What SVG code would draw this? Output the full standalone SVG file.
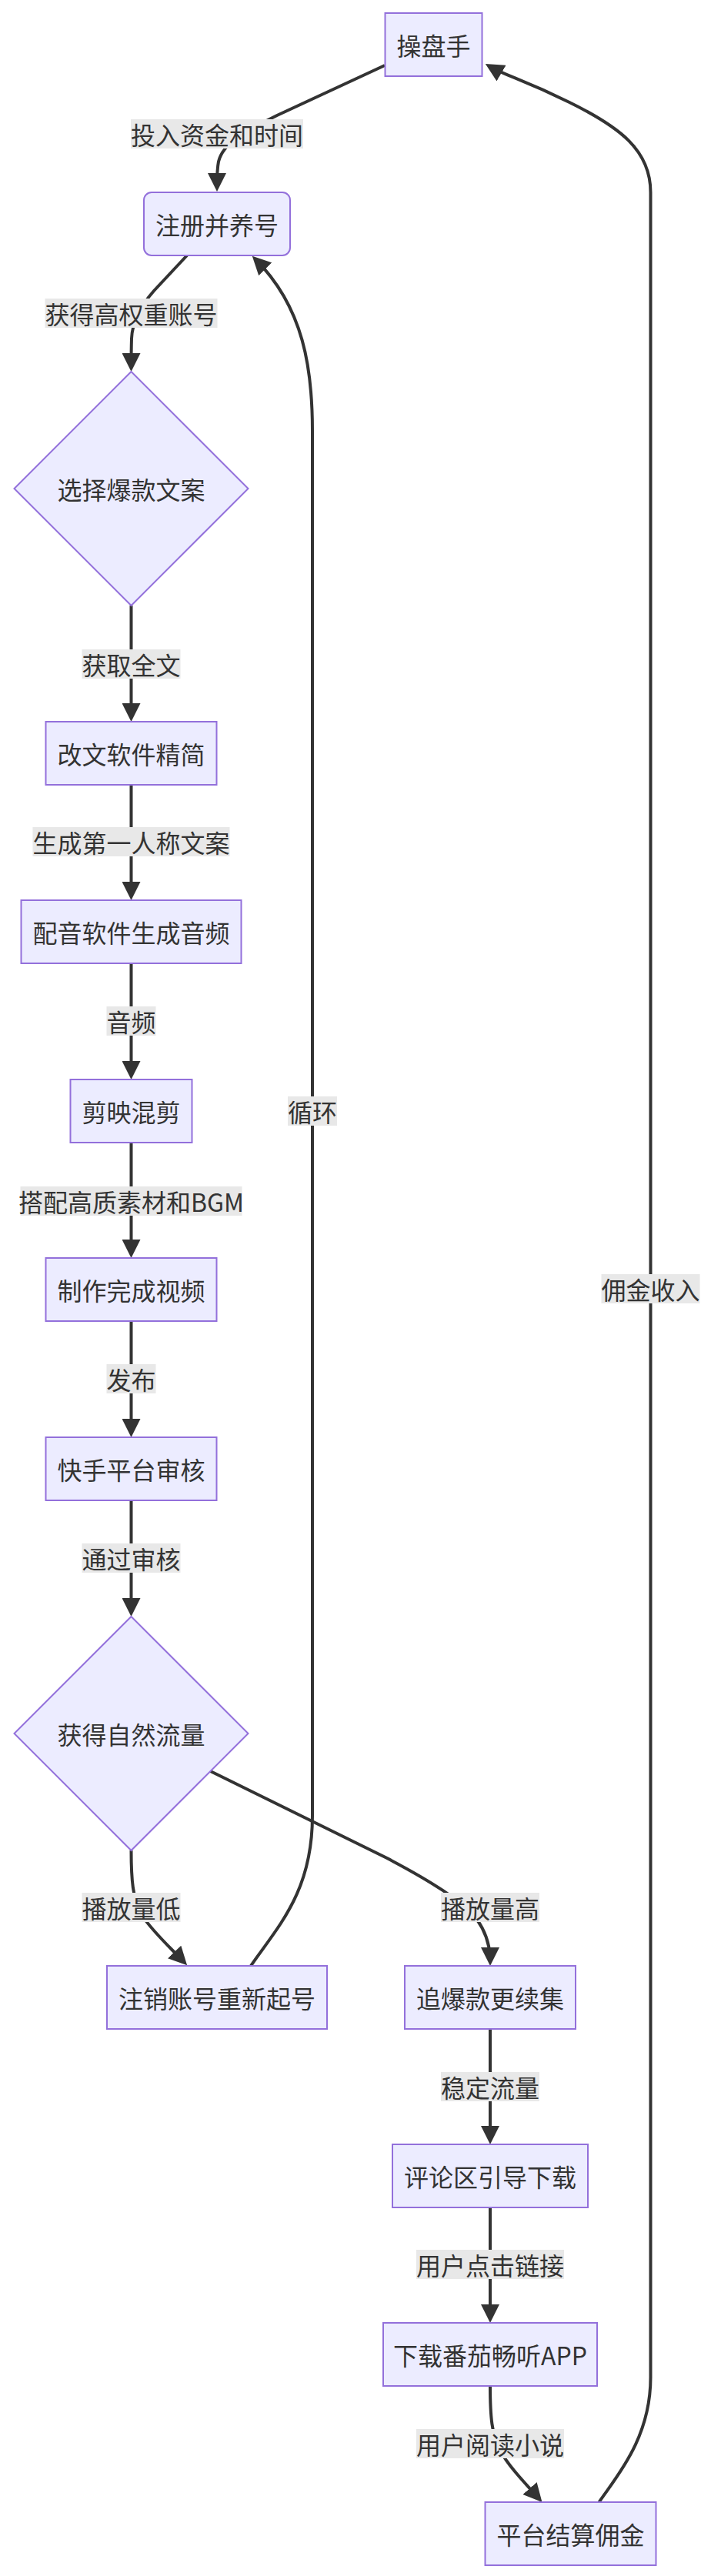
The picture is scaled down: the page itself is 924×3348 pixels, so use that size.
<svg xmlns="http://www.w3.org/2000/svg" width="924" height="3348" viewBox="0 0 924 3348">
<style>
.node rect, .node polygon { fill: #ECECFF; stroke: #9370DB; stroke-width: 2; }
.edge { fill: none; stroke: #333333; stroke-width: 4; }
.lbl rect { fill: #e8e8e8; }
text { font-family: "Noto Sans CJK SC", "Noto Sans", sans-serif; font-size: 32px; fill: #333333; text-anchor: middle; dominant-baseline: central; }
</style>
<defs>
<marker id="arrow" viewBox="0 0 10 10" refX="7.5" refY="5" markerUnits="userSpaceOnUse" markerWidth="24" markerHeight="24" orient="auto">
<path d="M0,0 L10,5 L0,10 z" fill="#333333"/>
</marker>
</defs>
<rect width="924" height="3348" fill="#ffffff"/>
<g id="connectors">
<path class="edge" marker-end="url(#arrow)" d="M500,85 L360,150 C320,170 290,185 284,210 C282,220 282,230 282,243"/>
<path class="edge" marker-end="url(#arrow)" d="M243,332 L200,378 C185,395 172,415 171,440 C170.5,455 170.5,465 170.5,477"/>
<path class="edge" marker-end="url(#arrow)" d="M170.5,787 L170.5,932"/>
<path class="edge" marker-end="url(#arrow)" d="M170.5,1020 L170.5,1164"/>
<path class="edge" marker-end="url(#arrow)" d="M170.5,1252 L170.5,1397"/>
<path class="edge" marker-end="url(#arrow)" d="M170.5,1485 L170.5,1629"/>
<path class="edge" marker-end="url(#arrow)" d="M170.5,1717 L170.5,1862"/>
<path class="edge" marker-end="url(#arrow)" d="M170.5,1950 L170.5,2095"/>
<path class="edge" marker-end="url(#arrow)" d="M170.5,2405 C170.5,2440 172,2470 185,2490 C198,2510 220,2530 239,2550"/>
<path class="edge" marker-end="url(#arrow)" d="M273.5,2302 L503,2415 C560,2445 600,2470 620,2495 C632,2512 637,2530 637,2549"/>
<path class="edge" marker-end="url(#arrow)" d="M637,2637 L637,2781"/>
<path class="edge" marker-end="url(#arrow)" d="M637,2869 L637,3013"/>
<path class="edge" marker-end="url(#arrow)" d="M637,3101 C637,3140 639,3165 650,3185 C662,3207 685,3230 700.5,3247.5"/>
<path class="edge" marker-end="url(#arrow)" d="M778.5,3252 C800,3220 845.5,3170 845.5,3090 L845.5,250 C845.5,195 805,165 740,133 S660,100 636,86"/>
<path class="edge" marker-end="url(#arrow)" d="M326,2555 C360,2505 406,2460 406,2360 L406,560 C406,480 395,400 332,337"/>
</g>
<g id="edge-labels">
<g class="lbl"><rect x="170" y="155" width="224" height="38"/><text x="282" y="174">投入资金和时间</text></g>
<g class="lbl"><rect x="58.5" y="388" width="224" height="38"/><text x="170.5" y="407">获得高权重账号</text></g>
<g class="lbl"><rect x="106.5" y="844" width="128" height="38"/><text x="170.5" y="863">获取全文</text></g>
<g class="lbl"><rect x="42.5" y="1075" width="256" height="38"/><text x="170.5" y="1094">生成第一人称文案</text></g>
<g class="lbl"><rect x="138.5" y="1308" width="64" height="38"/><text x="170.5" y="1327">音频</text></g>
<g class="lbl"><rect x="26.5" y="1542" width="288" height="38"/><text x="170.5" y="1561">搭配高质素材和BGM</text></g>
<g class="lbl"><rect x="138.5" y="1773" width="64" height="38"/><text x="170.5" y="1792">发布</text></g>
<g class="lbl"><rect x="106.5" y="2006" width="128" height="38"/><text x="170.5" y="2025">通过审核</text></g>
<g class="lbl"><rect x="106.5" y="2460" width="128" height="38"/><text x="170.5" y="2479">播放量低</text></g>
<g class="lbl"><rect x="573" y="2460" width="128" height="38"/><text x="637" y="2479">播放量高</text></g>
<g class="lbl"><rect x="573" y="2693" width="128" height="38"/><text x="637" y="2712">稳定流量</text></g>
<g class="lbl"><rect x="541" y="2924" width="192" height="38"/><text x="637" y="2943">用户点击链接</text></g>
<g class="lbl"><rect x="541" y="3157" width="192" height="38"/><text x="637" y="3176">用户阅读小说</text></g>
<g class="lbl"><rect x="374" y="1425" width="64" height="38"/><text x="406" y="1444">循环</text></g>
<g class="lbl"><rect x="781.5" y="1656" width="128" height="38"/><text x="845.5" y="1675">佣金收入</text></g>
</g>
<g id="n-caopanshou" class="node"><rect x="500.5" y="17" width="126" height="82"/><text x="563.5" y="58">操盘手</text></g>
<g id="n-zhuce" class="node"><rect x="187" y="250" width="190" height="82" rx="10" ry="10"/><text x="282" y="291">注册并养号</text></g>
<g id="n-xuanze" class="node"><polygon points="170.5,483 322.5,635 170.5,787 18.5,635"/><text x="170.5" y="635">选择爆款文案</text></g>
<g id="n-gaiwen" class="node"><rect x="59.5" y="938" width="222" height="82"/><text x="170.5" y="979">改文软件精简</text></g>
<g id="n-peiyin" class="node"><rect x="27.5" y="1170" width="286" height="82"/><text x="170.5" y="1211">配音软件生成音频</text></g>
<g id="n-jianying" class="node"><rect x="91.5" y="1403" width="158" height="82"/><text x="170.5" y="1444">剪映混剪</text></g>
<g id="n-zhizuo" class="node"><rect x="59.5" y="1635" width="222" height="82"/><text x="170.5" y="1676">制作完成视频</text></g>
<g id="n-kuaishou" class="node"><rect x="59.5" y="1868" width="222" height="82"/><text x="170.5" y="1909">快手平台审核</text></g>
<g id="n-liuliang" class="node"><polygon points="170.5,2101 322.5,2253 170.5,2405 18.5,2253"/><text x="170.5" y="2253">获得自然流量</text></g>
<g id="n-zhuxiao" class="node"><rect x="139" y="2555" width="286" height="82"/><text x="282" y="2596">注销账号重新起号</text></g>
<g id="n-zhui" class="node"><rect x="526" y="2555" width="222" height="82"/><text x="637" y="2596">追爆款更续集</text></g>
<g id="n-pinglun" class="node"><rect x="510" y="2787" width="254" height="82"/><text x="637" y="2828">评论区引导下载</text></g>
<g id="n-xiazai" class="node"><rect x="498" y="3019" width="278" height="82"/><text x="637" y="3060">下载番茄畅听APP</text></g>
<g id="n-jiesuan" class="node"><rect x="630.5" y="3252" width="222" height="82"/><text x="741.5" y="3293">平台结算佣金</text></g>
</svg>
